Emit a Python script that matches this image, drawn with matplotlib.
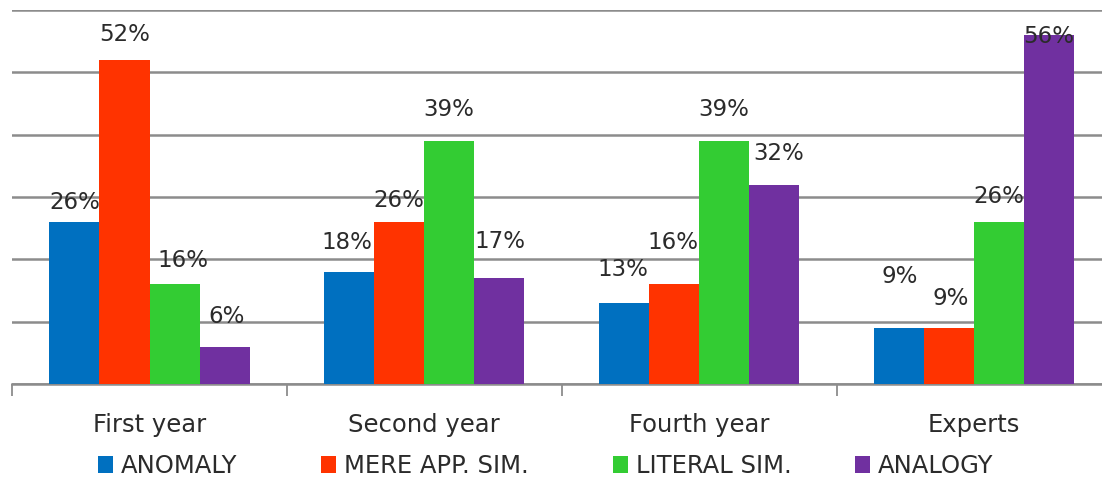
import matplotlib
matplotlib.use("Agg")
import matplotlib.pyplot as plt
import numpy as np
from matplotlib.patches import Patch

categories = ["First year", "Second year", "Fourth year", "Experts"]
series_names = ["ANOMALY", "MERE APP. SIM.", "LITERAL SIM.", "ANALOGY"]
anomaly = [26, 18, 13, 9]
mere_app_sim = [52, 26, 16, 9]
literal_sim = [16, 39, 39, 26]
analogy = [6, 17, 32, 56]

series_values = [anomaly, mere_app_sim, literal_sim, analogy]
colors = ["#0070C0", "#FF3300", "#33CC33", "#7030A0"]

# label vertical nudges in pixels above the bar top (per series, per group)
label_dy = [[19, 29, 33, 51],
            [25, 21, 42, 29],
            [24, 31, 31, 25],
            [30, 37, 31, -2]]
label_dx = [[0, -2, -1, 1],
            [0, -1, -1, 2],
            [8, -1, 0, 0],
            [2, 1, 4, 0]]

W, H = 1102, 480
fig = plt.figure(figsize=(W / 100, H / 100), dpi=100)
ax = fig.add_axes([12.1 / W, 96 / H, (1111.4 - 12.1) / W, 374 / H])

x = np.arange(len(categories))
bw = 0.182
text_col = "#2B2B2B"
grid_col = "#8C8C8C"

for i, (vals, col) in enumerate(zip(series_values, colors)):
    pos = x + (i - 1.5) * bw
    ax.bar(pos, vals, width=bw, color=col, zorder=3, linewidth=0)
    for j, (p, v) in enumerate(zip(pos, vals)):
        ax.annotate(f"{v}%", xy=(p, v), xytext=(label_dx[i][j] * 0.72, label_dy[i][j] * 0.72),
                    textcoords="offset points", ha="center", va="center",
                    fontsize=16.5, color=text_col, zorder=5)

ax.set_xlim(-0.5, 3.5)
ax.set_ylim(0, 60)
ax.set_yticks(np.arange(0, 61, 10))
ax.yaxis.grid(True, color=grid_col, linewidth=1.8, zorder=0)
ax.set_axisbelow(True)
ax.tick_params(axis="y", left=False, labelleft=False)

ax.set_xticks(x)
ax.set_xticklabels(categories, fontsize=17.5, color=text_col)
ax.tick_params(axis="x", which="major", length=0, pad=21)
ax.set_xticks(np.arange(-0.5, 3.6, 1.0), minor=True)
ax.tick_params(axis="x", which="minor", length=8.6, width=1.3, color=grid_col, direction="out")

for s in ["top", "right", "left"]:
    ax.spines[s].set_visible(False)
ax.spines["bottom"].set_color(grid_col)
ax.spines["bottom"].set_linewidth(1.8)

leg_x = [98, 321, 613, 855]
for name, col, lx in zip(series_names, colors, leg_x):
    fig.legend(handles=[Patch(facecolor=col, edgecolor="none", label=name)],
               loc="center left", bbox_to_anchor=(lx / W, 14 / H),
               frameon=False, fontsize=17.5, borderpad=0, borderaxespad=0,
               handlelength=0.6, handleheight=0.75, handletextpad=0.35,
               labelcolor=text_col)

fig.savefig("out.png", dpi=100)
